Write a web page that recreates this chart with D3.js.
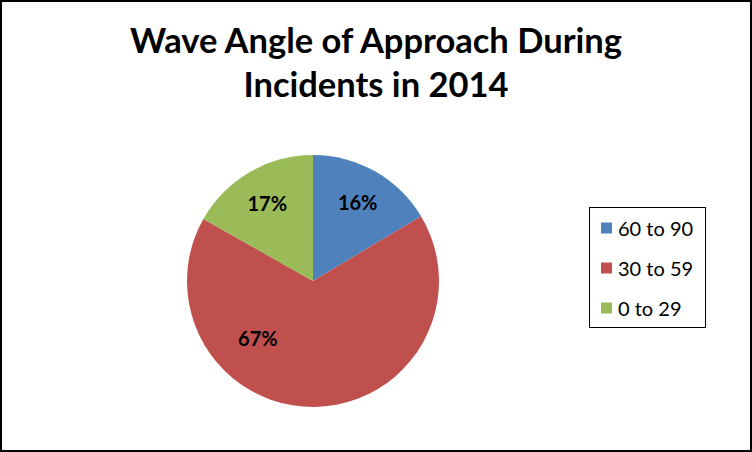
<!DOCTYPE html>
<html><head><meta charset="utf-8">
<script src="https://cdn.jsdelivr.net/npm/d3@7"></script>
<style>body{margin:0;background:#fff}svg{display:block}</style>
</head><body>
<script>
const titleLines = ["Wave Angle of Approach During", "Incidents in 2014"];
const categories = ["60 to 90", "30 to 59", "0 to 29"];
const values = [16.4, 66.8, 16.8];
const labels = ["16%", "67%", "17%"];
const colors = ["#4F81BD", "#C0504D", "#9BBB59"];

const W = 752, H = 452;
const svg = d3.select("body").append("svg").attr("width", W).attr("height", H);
svg.append("rect").attr("x", 1).attr("y", 1).attr("width", W - 2).attr("height", H - 2)
  .attr("fill", "#fff").attr("stroke", "#000").attr("stroke-width", 2);

const font = "Lato, 'Open Sans', sans-serif";
svg.append("g").selectAll("text").data(titleLines).join("text")
  .attr("x", 376).attr("y", (d, i) => 53 + i * 44)
  .attr("text-anchor", "middle").attr("font-family", font).attr("font-weight", "bold")
  .attr("font-size", 34.5).attr("fill", "#000").text(d => d);

const cx = 313, cy = 281, r = 126;
const data = categories.map((c, i) => ({ cat: c, value: values[i], label: labels[i], color: colors[i] }));
const pie = d3.pie().value(d => d.value).sort(null);
const arcs = pie(data);
const arc = d3.arc().innerRadius(0).outerRadius(r);
const g = svg.append("g").attr("transform", `translate(${cx},${cy})`);
g.selectAll("path").data(arcs).join("path").attr("d", arc).attr("fill", d => d.data.color);

// label placement: small slices near centroid radius, large slice shifted toward lower-left
function labelPos(d) {
  let a = (d.startAngle + d.endAngle) / 2;
  let rr = 0.72 * r;
  if (d.endAngle - d.startAngle > Math.PI) { a = a + 0.78; rr = 0.63 * r; }
  return [Math.sin(a) * rr, -Math.cos(a) * rr];
}
g.selectAll("text").data(arcs).join("text")
  .attr("x", d => labelPos(d)[0]).attr("y", d => labelPos(d)[1])
  .attr("text-anchor", "middle").attr("dominant-baseline", "central")
  .attr("font-family", font).attr("font-weight", "bold").attr("font-size", 20)
  .attr("fill", "#000").text(d => d.data.label);

// legend
const lg = svg.append("g");
lg.append("rect").attr("x", 589.5).attr("y", 207.5).attr("width", 116).attr("height", 120)
  .attr("fill", "#fff").attr("stroke", "#000").attr("stroke-width", 1);
const items = lg.selectAll("g.item").data(data).join("g").attr("class", "item")
  .attr("transform", (d, i) => `translate(601, ${228 + i * 40})`);
items.append("rect").attr("x", 0).attr("y", -5.5).attr("width", 11).attr("height", 11).attr("fill", d => d.color);
items.append("text").attr("x", 17).attr("y", 0).attr("dominant-baseline", "central")
  .attr("font-family", font).attr("font-size", 20).attr("fill", "#000").text(d => d.cat);
</script>
</body></html>
